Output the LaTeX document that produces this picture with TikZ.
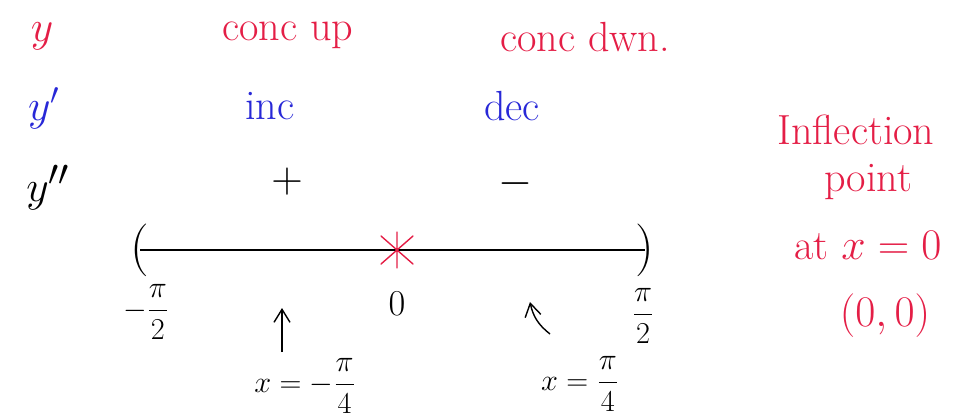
\documentclass[tikz,border=0pt]{standalone}
\usepackage{amsmath}
\usepackage{xcolor}
\usepackage{tikz}
\usetikzlibrary{positioning,arrows.meta}
\definecolor{penred}{RGB}{228,30,70}
\definecolor{penblue}{RGB}{40,40,215}
\tikzset{
    rtxt/.style={text=penred,font=\fontsize{24}{28}\selectfont,inner sep=1pt},
    btxt/.style={text=penblue,font=\fontsize{24}{28}\selectfont,inner sep=1pt},
    ktxt/.style={font=\fontsize{24}{28}\selectfont,inner sep=1pt},
    paren/.style={font=\fontsize{30}{34}\selectfont,inner sep=0pt},
    tick/.style={font=\fontsize{17}{20}\selectfont,inner sep=1pt},
    arr/.style={-{Straight Barb[length=2.6mm,width=3.2mm]},thick},
}

\begin{document}
\begin{tikzpicture}[x=0.02cm,y=-0.02cm]
\useasboundingbox (0,0) rectangle (969,419);
% sign chart rows
\node[rtxt] (y0)  at (42,36)   {$y$};
\node[btxt] (y1)  at (44,108)  {$y'$};
\node[ktxt,font=\fontsize{30}{34}\selectfont] (y2) at (48,188) {$y''$};
\node[rtxt] (cup) at (288,35)  {conc up};
\node[rtxt] (cdn) at (585,37)  {conc dwn.};
\node[btxt] (inc) at (270,106) {inc};
\node[btxt] (dec) at (512,106) {dec};
\node[ktxt] (pos) at (287,182) {$+$};
\node[ktxt] (neg) at (515,184) {$-$};

% the interval
\node[paren] (lp) at (140,250) {(};
\node[paren] (rp) at (645,250) {)};
\draw[thick] (lp.center) -- (rp.center);
\coordinate (star) at (397,250);
\draw[penred,thick,line cap=round] (star) ++(-16,-14) -- ++(32,28)
    (star) ++(16,-14) -- ++(-32,28) (star) ++(0,-18) -- ++(0,36);
\node[tick] (mhalf) at (146,312) {$-\dfrac{\pi}{2}$};
\node[tick,font=\fontsize{20}{24}\selectfont] (zero) at (397,304) {$0$};
\node[tick] (phalf) at (643,316) {$\dfrac{\pi}{2}$};

% test points
\node[tick] (xneg) at (305,386) {$x=-\dfrac{\pi}{4}$};
\node[tick] (xpos) at (580,384) {$x=\dfrac{\pi}{4}$};
\coordinate (aneg) at (282,352);
\coordinate (tneg) at (282,308);
\coordinate (apos) at (550,334);
\coordinate (tpos) at (530,302);
\draw[arr] (aneg) -- (tneg);
\draw[arr] (apos) to[bend left=20] (tpos);

% conclusion
\node[rtxt] (inf) at (856,130) {Inflection};
\node[rtxt] (pt)  at (868,182) {point};
\node[rtxt] (atx) at (868,246) {at $x=0$};
\node[rtxt] (org) at (885,316) {$(0,0)$};
\end{tikzpicture}
\end{document}
